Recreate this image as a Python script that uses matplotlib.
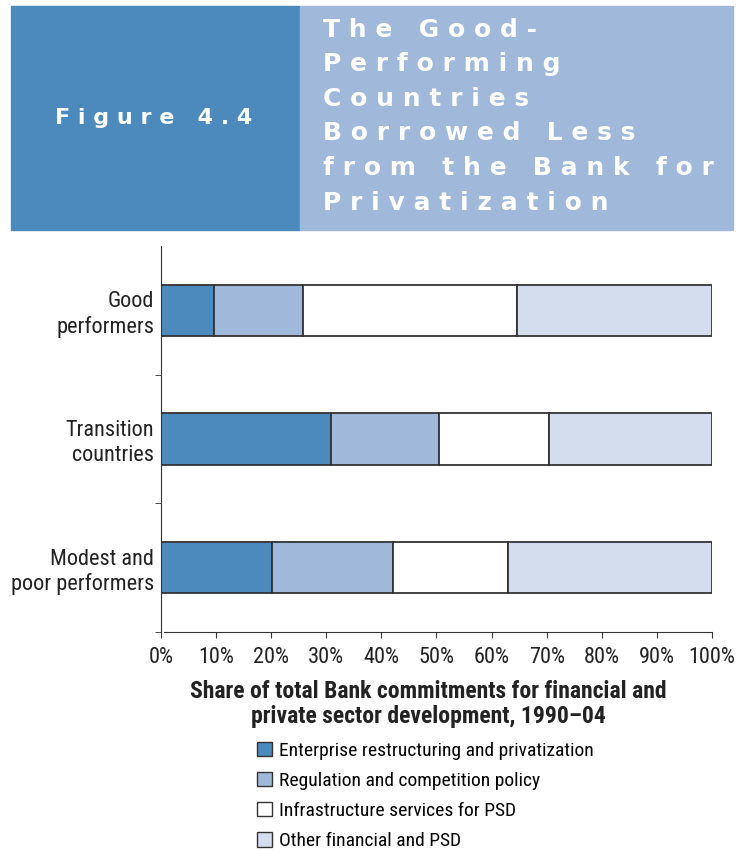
import matplotlib.pyplot as plt
from matplotlib.patches import Rectangle, Patch

# shares of FPSD commitments (percent), one list per category
groups = ['Good\nperformers', 'Transition\ncountries', 'Modest and\npoor performers']
enterprise = [9.6, 30.9, 20.1]
regulation = [16.2, 19.6, 22.0]
infrastructure = [38.9, 20.0, 20.9]
other = [35.3, 29.5, 37.0]
series_names = ['Enterprise restructuring and privatization',
                'Regulation and competition policy',
                'Infrastructure services for PSD',
                'Other financial and PSD']
xticks = list(range(0, 101, 10))

dark_blue = '#4C8ABE'
mid_blue = '#A0B9DA'
pale_blue = '#D4DDED'
edge = '#333333'
colors = [dark_blue, mid_blue, 'white', pale_blue]

body = ['Roboto Condensed', 'Roboto', 'DejaVu Sans']
head = ['DejaVu Sans']
plt.rcParams['font.family'] = body

fig = plt.figure(figsize=(7.48, 8.5), dpi=100)

# header band
fig.patches.append(Rectangle((11/748, 1-230/850), 289/748, 224/850,
                             transform=fig.transFigure, color=dark_blue, zorder=0))
fig.patches.append(Rectangle((300/748, 1-230/850), 433/748, 224/850,
                             transform=fig.transFigure, color=mid_blue, zorder=0))
fig.text(55/748, 1-118/850, 'F i g u r e   4 . 4', color='white', fontsize=16,
         fontweight='bold', ha='left', va='center', family=head)
title_lines = ['T h e   G o o d -', 'P e r f o r m i n g', 'C o u n t r i e s',
               'B o r r o w e d   L e s s', 'f r o m   t h e   B a n k   f o r',
               'P r i v a t i z a t i o n']
for i, line in enumerate(title_lines):
    fig.text(323/748, 1-(30 + i*34.5)/850, line, color='white', fontsize=18,
             fontweight='bold', ha='left', va='center', family=head)

ax = fig.add_axes([161/748, 1-632/850, 551/748, 386/850])
for s in ['top', 'right']:
    ax.spines[s].set_visible(False)
ax.spines['left'].set_color(edge)
ax.spines['bottom'].set_color(edge)
ax.spines['bottom'].set_bounds(0.6, 100)

ypos = range(len(groups))
left = [0, 0, 0]
for vals, c, name in zip([enterprise, regulation, infrastructure, other], colors, series_names):
    ax.barh(ypos, vals, left=left, height=0.4, color=c, edgecolor=edge, linewidth=1.3, label=name)
    left = [l + v for l, v in zip(left, vals)]

ax.set_xlim(0, 100)
ax.set_ylim(2.5, -0.5)
ax.set_xticks(xticks)
ax.set_xticklabels([f'{t}%' for t in xticks], fontsize=16, color='#222222')
ax.set_yticks(list(ypos))
ax.set_yticklabels(groups, fontsize=16, color='#222222', linespacing=1.2)
ax.tick_params(axis='y', which='major', length=0, pad=5)
ax.set_yticks([0.5, 1.5, 2.5], minor=True)
ax.tick_params(axis='y', which='minor', length=4, color=edge)
ax.tick_params(axis='x', length=4, color=edge, pad=7)

fig.text(428/748, 1-704/850, 'Share of total Bank commitments for financial and\nprivate sector development, 1990\u201304',
         ha='center', va='center', fontsize=17, fontweight='bold', color='#222222', linespacing=1.15)

handles = [Patch(facecolor=c, edgecolor=edge, linewidth=1.0) for c in colors]
fig.legend(handles, series_names, loc='upper left', bbox_to_anchor=(257/748, 1-742/850),
           frameon=False, fontsize=14, handlelength=0.75, handleheight=0.75,
           handletextpad=0.4, labelspacing=0.62, borderaxespad=0, borderpad=0)

fig.savefig('out.png', dpi=100)
